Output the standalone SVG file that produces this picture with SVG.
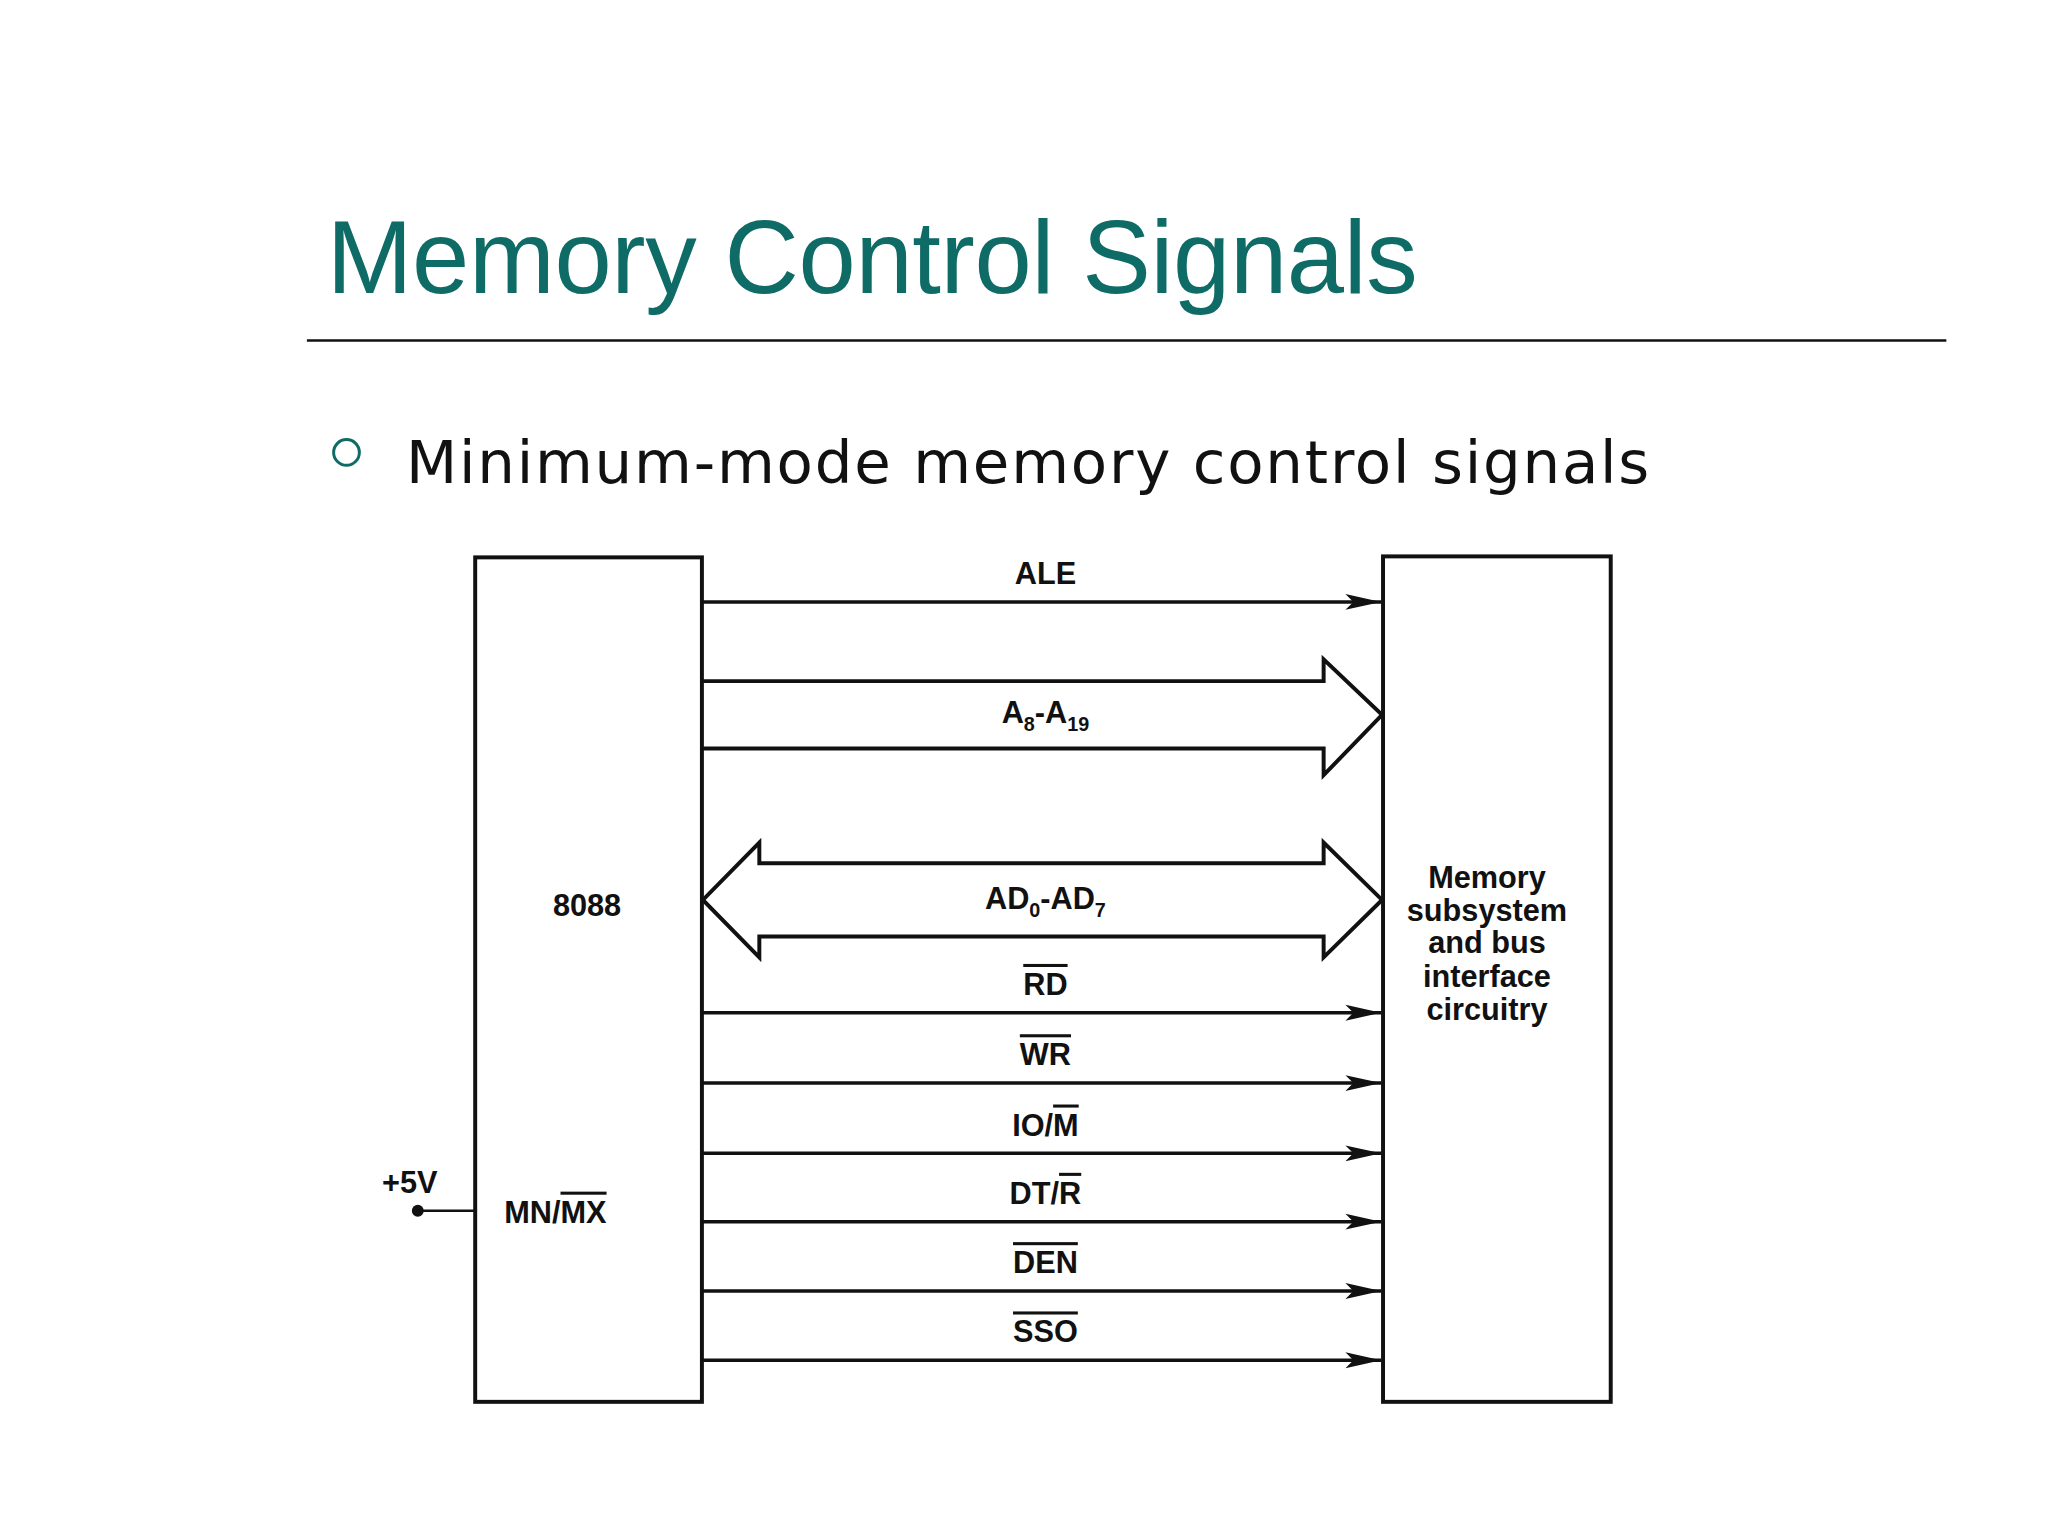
<svg xmlns="http://www.w3.org/2000/svg" width="2048" height="1536" viewBox="0 0 2048 1536">
<style>
.l{font-family:"Liberation Sans",Arial,sans-serif;font-size:31px;font-weight:bold;fill:#111;text-anchor:middle}
.w{stroke:#111;stroke-width:4;fill:none}
.s{stroke:#111;stroke-width:3.5;fill:none;marker-end:url(#ah)}
</style>
<defs><marker id="ah" markerWidth="38" markerHeight="18" refX="36" refY="9" orient="auto" markerUnits="userSpaceOnUse"><path d="M0,1 L36,9 L0,17 L8,9 Z" fill="#111"/></marker></defs>
<rect width="2048" height="1536" fill="#fff"/>
<g transform="scale(0.99)">
<text x="330" y="296" font-family="'Liberation Sans',Arial,sans-serif" font-size="104" fill="#0f6b66" textLength="1102">Memory Control Signals</text>
<line x1="310" y1="344" x2="1966" y2="344" stroke="#111" stroke-width="2.5"/>
<circle cx="350" cy="457" r="13" fill="none" stroke="#0f6b66" stroke-width="3"/>
<text x="410" y="488" font-family="'DejaVu Sans',Verdana,sans-serif" font-size="60" fill="#111" textLength="1256">Minimum-mode memory control signals</text>
<g id="cpu"><rect x="480" y="563" width="229" height="853" class="w"/>
<text x="593" y="925" class="l" font-weight="normal">8088</text>
<text x="561" y="1235" class="l" font-weight="normal">MN/<tspan text-decoration="overline">MX</tspan></text></g>
<g id="mem"><rect x="1397" y="562" width="230" height="854" class="w"/>
<text class="l" font-size="27"><tspan x="1502" y="897">Memory</tspan><tspan x="1502" y="930">subsystem</tspan><tspan x="1502" y="963">and bus</tspan><tspan x="1502" y="997">interface</tspan><tspan x="1502" y="1030">circuitry</tspan></text></g>
<g id="pwr"><circle cx="422" cy="1223" r="6" fill="#111"/><line x1="422" y1="1223" x2="480" y2="1223" stroke="#111" stroke-width="2.5"/>
<text x="414" y="1205" class="l" font-weight="normal">+5V</text></g>
<g id="connectors">
<line x1="709" y1="608" x2="1395" y2="608" class="s"/>
<text x="1056" y="590" class="l">ALE</text>
<path d="M709,688 H1337 V666 L1396,722 L1337,783 V756 H709" class="w"/>
<text x="1056" y="730" class="l">A<tspan font-size="20" dy="8">8</tspan><tspan dy="-8">-A</tspan><tspan font-size="20" dy="8">19</tspan></text>
<path d="M767,872 H1337 V851 L1396,909 L1337,967 V946 H767 V967 L710,909 L767,851 Z" class="w"/>
<text x="1056" y="918" class="l">AD<tspan font-size="20" dy="8">0</tspan><tspan dy="-8">-AD</tspan><tspan font-size="20" dy="8">7</tspan></text>
<line x1="709" y1="1023" x2="1395" y2="1023" class="s"/>
<text x="1056" y="1005" class="l" text-decoration="overline">RD</text>
<line x1="709" y1="1094" x2="1395" y2="1094" class="s"/>
<text x="1056" y="1076" class="l" text-decoration="overline">WR</text>
<line x1="709" y1="1165" x2="1395" y2="1165" class="s"/>
<text x="1056" y="1147" class="l">IO/<tspan text-decoration="overline">M</tspan></text>
<line x1="709" y1="1234" x2="1395" y2="1234" class="s"/>
<text x="1056" y="1216" class="l">DT/<tspan text-decoration="overline">R</tspan></text>
<line x1="709" y1="1304" x2="1395" y2="1304" class="s"/>
<text x="1056" y="1286" class="l" text-decoration="overline">DEN</text>
<line x1="709" y1="1374" x2="1395" y2="1374" class="s"/>
<text x="1056" y="1356" class="l" text-decoration="overline">SSO</text>
</g>
</g>
</svg>
